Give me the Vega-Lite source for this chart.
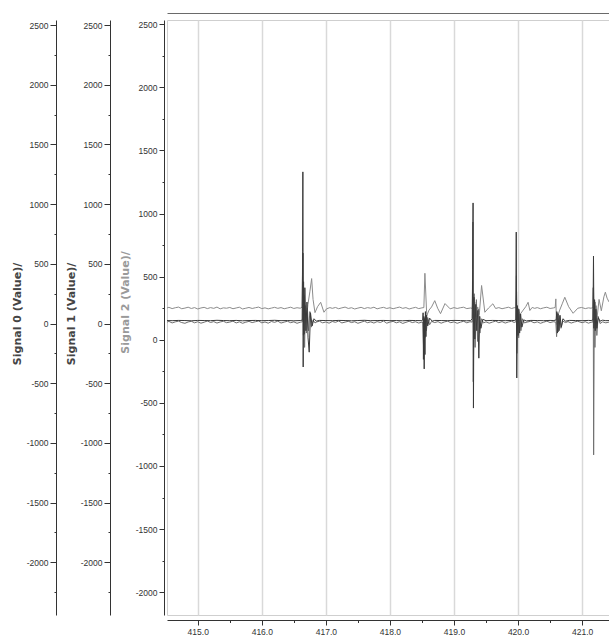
{
  "$schema": "https://vega.github.io/schema/vega-lite/v6.json",
  "width": 442,
  "height": 595,
  "autosize": "none",
  "padding": {"left": 167, "top": 20, "right": 0, "bottom": 26},
  "background": "white",
  "config": {
    "view": {"stroke": "#cfcfcf", "strokeWidth": 1},
    "axis": {
      "labelFont": "Liberation Sans",
      "labelFontSize": 8.5,
      "labelColor": "#333333",
      "domainColor": "#333333",
      "tickColor": "#333333",
      "titleFont": "DejaVu Sans",
      "titleFontSize": 11,
      "titleFontWeight": "bold",
      "titleColor": "#444444"
    }
  },
  "datasets": {
    "s0": [
      {"t":414.52,"v":25},{"t":414.6,"v":24},{"t":414.7,"v":26},{"t":414.8,"v":25},{"t":414.9,"v":23},{"t":415.0,"v":26},{"t":415.1,"v":25},{"t":415.2,"v":24},{"t":415.3,"v":27},{"t":415.4,"v":25},{"t":415.5,"v":24},{"t":415.6,"v":26},{"t":415.7,"v":23},{"t":415.8,"v":25},{"t":415.9,"v":26},{"t":416.0,"v":24},{"t":416.1,"v":25},{"t":416.2,"v":27},{"t":416.3,"v":24},{"t":416.4,"v":25},{"t":416.5,"v":23},{"t":416.6,"v":25},
      {"t":416.63,"v":28},{"t":416.637,"v":600},{"t":416.641,"v":1270},{"t":416.646,"v":-364},{"t":416.652,"v":350},{"t":416.66,"v":-90},{"t":416.672,"v":300},{"t":416.688,"v":-60},{"t":416.705,"v":180},{"t":416.722,"v":-120},{"t":416.74,"v":-240},{"t":416.76,"v":90},{"t":416.785,"v":-20},{"t":416.815,"v":40},{"t":416.85,"v":20},{"t":416.9,"v":26},
      {"t":417.0,"v":25},{"t":417.1,"v":24},{"t":417.2,"v":26},{"t":417.3,"v":25},{"t":417.4,"v":23},{"t":417.5,"v":25},{"t":417.6,"v":27},{"t":417.7,"v":24},{"t":417.8,"v":25},{"t":417.9,"v":26},{"t":418.0,"v":24},{"t":418.1,"v":25},{"t":418.2,"v":23},{"t":418.3,"v":26},{"t":418.4,"v":25},{"t":418.5,"v":24},
      {"t":418.512,"v":30},{"t":418.518,"v":90},{"t":418.523,"v":-300},{"t":418.529,"v":60},{"t":418.535,"v":-380},{"t":418.541,"v":40},{"t":418.547,"v":-260},{"t":418.554,"v":100},{"t":418.562,"v":-110},{"t":418.572,"v":70},{"t":418.59,"v":-20},{"t":418.62,"v":45},{"t":418.66,"v":20},
      {"t":418.7,"v":26},{"t":418.8,"v":25},{"t":418.9,"v":24},{"t":419.0,"v":26},{"t":419.1,"v":25},{"t":419.2,"v":23},{"t":419.26,"v":25},
      {"t":419.285,"v":40},{"t":419.292,"v":450},{"t":419.298,"v":1010},{"t":419.304,"v":-708},{"t":419.312,"v":220},{"t":419.325,"v":-130},{"t":419.34,"v":160},{"t":419.355,"v":-60},{"t":419.372,"v":110},{"t":419.388,"v":-290},{"t":419.402,"v":60},{"t":419.42,"v":-40},{"t":419.45,"v":35},
      {"t":419.5,"v":24},{"t":419.6,"v":26},{"t":419.7,"v":25},{"t":419.8,"v":24},{"t":419.9,"v":26},{"t":419.94,"v":25},
      {"t":419.965,"v":30},{"t":419.972,"v":766},{"t":419.98,"v":-456},{"t":419.99,"v":150},{"t":420.0,"v":-100},{"t":420.012,"v":120},{"t":420.025,"v":-80},{"t":420.04,"v":80},{"t":420.06,"v":-30},{"t":420.09,"v":30},{"t":420.13,"v":22},
      {"t":420.2,"v":26},{"t":420.3,"v":25},{"t":420.4,"v":24},{"t":420.5,"v":26},{"t":420.56,"v":25},
      {"t":420.595,"v":30},{"t":420.605,"v":100},{"t":420.615,"v":-80},{"t":420.625,"v":80},{"t":420.64,"v":-60},{"t":420.655,"v":70},{"t":420.675,"v":-30},{"t":420.7,"v":40},{"t":420.74,"v":20},
      {"t":420.8,"v":26},{"t":420.9,"v":25},{"t":421.0,"v":24},{"t":421.1,"v":26},{"t":421.14,"v":25},
      {"t":421.17,"v":30},{"t":421.178,"v":565},{"t":421.185,"v":-40},{"t":421.195,"v":200},{"t":421.205,"v":-60},{"t":421.215,"v":120},{"t":421.23,"v":-40},{"t":421.25,"v":50},{"t":421.28,"v":20},{"t":421.32,"v":28},{"t":421.37,"v":24},{"t":421.42,"v":25}
    ],
    "s1": [
      {"t":414.52,"v":12},{"t":414.55,"v":18},{"t":414.6,"v":5},{"t":414.65,"v":14},{"t":414.7,"v":20},{"t":414.75,"v":8},{"t":414.8,"v":2},{"t":414.85,"v":13},{"t":414.9,"v":19},{"t":414.95,"v":6},{"t":415.0,"v":15},{"t":415.05,"v":3},{"t":415.1,"v":11},{"t":415.15,"v":21},{"t":415.2,"v":9},{"t":415.25,"v":16},{"t":415.3,"v":4},{"t":415.35,"v":13},{"t":415.4,"v":19},{"t":415.45,"v":7},{"t":415.5,"v":12},{"t":415.55,"v":20},{"t":415.6,"v":5},{"t":415.65,"v":14},{"t":415.7,"v":2},{"t":415.75,"v":11},{"t":415.8,"v":18},{"t":415.85,"v":8},{"t":415.9,"v":15},{"t":415.95,"v":21},{"t":416.0,"v":6},{"t":416.05,"v":13},{"t":416.1,"v":3},{"t":416.15,"v":17},{"t":416.2,"v":10},{"t":416.25,"v":20},{"t":416.3,"v":4},{"t":416.35,"v":12},{"t":416.4,"v":19},{"t":416.45,"v":7},{"t":416.5,"v":14},{"t":416.55,"v":2},{"t":416.6,"v":11},
      {"t":416.635,"v":15},{"t":416.64,"v":200},{"t":416.645,"v":590},{"t":416.65,"v":-96},{"t":416.658,"v":240},{"t":416.668,"v":-200},{"t":416.68,"v":150},{"t":416.695,"v":-80},{"t":416.712,"v":130},{"t":416.73,"v":-60},{"t":416.75,"v":100},{"t":416.775,"v":-30},{"t":416.8,"v":30},{"t":416.83,"v":5},{"t":416.86,"v":14},
      {"t":416.9,"v":19},{"t":416.95,"v":6},{"t":417.0,"v":13},{"t":417.05,"v":3},{"t":417.1,"v":17},{"t":417.15,"v":10},{"t":417.2,"v":21},{"t":417.25,"v":5},{"t":417.3,"v":12},{"t":417.35,"v":19},{"t":417.4,"v":8},{"t":417.45,"v":15},{"t":417.5,"v":2},{"t":417.55,"v":11},{"t":417.6,"v":20},{"t":417.65,"v":7},{"t":417.7,"v":14},{"t":417.75,"v":4},{"t":417.8,"v":16},{"t":417.85,"v":9},{"t":417.9,"v":21},{"t":417.95,"v":3},{"t":418.0,"v":12},{"t":418.05,"v":18},{"t":418.1,"v":6},{"t":418.15,"v":14},{"t":418.2,"v":1},{"t":418.25,"v":10},{"t":418.3,"v":19},{"t":418.35,"v":8},{"t":418.4,"v":15},{"t":418.45,"v":4},{"t":418.5,"v":12},
      {"t":418.515,"v":5},{"t":418.525,"v":-200},{"t":418.535,"v":50},{"t":418.545,"v":-120},{"t":418.556,"v":80},{"t":418.57,"v":-60},{"t":418.59,"v":50},{"t":418.62,"v":-10},{"t":418.65,"v":18},
      {"t":418.7,"v":8},{"t":418.75,"v":16},{"t":418.8,"v":3},{"t":418.85,"v":13},{"t":418.9,"v":20},{"t":418.95,"v":7},{"t":419.0,"v":14},{"t":419.05,"v":2},{"t":419.1,"v":11},{"t":419.15,"v":19},{"t":419.2,"v":6},{"t":419.25,"v":15},
      {"t":419.285,"v":12},{"t":419.295,"v":850},{"t":419.301,"v":-488},{"t":419.315,"v":250},{"t":419.33,"v":-200},{"t":419.35,"v":200},{"t":419.368,"v":-150},{"t":419.385,"v":120},{"t":419.405,"v":-80},{"t":419.43,"v":40},{"t":419.46,"v":5},
      {"t":419.5,"v":14},{"t":419.55,"v":3},{"t":419.6,"v":12},{"t":419.65,"v":20},{"t":419.7,"v":7},{"t":419.75,"v":16},{"t":419.8,"v":4},{"t":419.85,"v":13},{"t":419.9,"v":19},{"t":419.94,"v":9},
      {"t":419.968,"v":15},{"t":419.975,"v":400},{"t":419.982,"v":-250},{"t":419.995,"v":90},{"t":420.01,"v":-120},{"t":420.025,"v":80},{"t":420.045,"v":-60},{"t":420.07,"v":40},{"t":420.1,"v":5},
      {"t":420.14,"v":12},{"t":420.2,"v":19},{"t":420.25,"v":6},{"t":420.3,"v":14},{"t":420.35,"v":2},{"t":420.4,"v":11},{"t":420.45,"v":20},{"t":420.5,"v":8},{"t":420.55,"v":15},
      {"t":420.59,"v":12},{"t":420.602,"v":-110},{"t":420.615,"v":90},{"t":420.63,"v":-70},{"t":420.65,"v":60},{"t":420.67,"v":-40},{"t":420.7,"v":20},{"t":420.74,"v":8},
      {"t":420.78,"v":16},{"t":420.83,"v":4},{"t":420.88,"v":13},{"t":420.93,"v":19},{"t":421.0,"v":7},{"t":421.05,"v":15},{"t":421.1,"v":3},{"t":421.14,"v":11},
      {"t":421.168,"v":12},{"t":421.174,"v":300},{"t":421.18,"v":-1100},{"t":421.19,"v":100},{"t":421.2,"v":-200},{"t":421.215,"v":150},{"t":421.23,"v":-100},{"t":421.25,"v":60},{"t":421.28,"v":0},{"t":421.32,"v":14},{"t":421.37,"v":6},{"t":421.42,"v":12}
    ],
    "s2": [
      {"t":414.52,"v":252},{"t":414.55,"v":257},{"t":414.6,"v":247},{"t":414.65,"v":254},{"t":414.7,"v":259},{"t":414.75,"v":246},{"t":414.8,"v":251},{"t":414.85,"v":258},{"t":414.9,"v":248},{"t":414.95,"v":255},{"t":415.0,"v":244},{"t":415.05,"v":252},{"t":415.1,"v":257},{"t":415.15,"v":247},{"t":415.2,"v":255},{"t":415.25,"v":249},{"t":415.3,"v":259},{"t":415.35,"v":245},{"t":415.4,"v":253},{"t":415.45,"v":250},{"t":415.5,"v":256},{"t":415.55,"v":246},{"t":415.6,"v":252},{"t":415.65,"v":258},{"t":415.7,"v":244},{"t":415.75,"v":250},{"t":415.8,"v":256},{"t":415.85,"v":248},{"t":415.9,"v":254},{"t":415.95,"v":259},{"t":416.0,"v":247},{"t":416.05,"v":253},{"t":416.1,"v":245},{"t":416.15,"v":251},{"t":416.2,"v":257},{"t":416.25,"v":249},{"t":416.3,"v":255},{"t":416.35,"v":246},{"t":416.4,"v":252},{"t":416.45,"v":258},{"t":416.5,"v":248},{"t":416.55,"v":254},{"t":416.6,"v":250},
      {"t":416.628,"v":258},{"t":416.64,"v":683},{"t":416.65,"v":34},{"t":416.665,"v":340},{"t":416.69,"v":130},{"t":416.72,"v":280},{"t":416.75,"v":380},{"t":416.778,"v":485},{"t":416.8,"v":320},{"t":416.83,"v":215},{"t":416.87,"v":262},{"t":416.919,"v":297},{"t":416.97,"v":218},{"t":417.01,"v":245},{"t":417.063,"v":255},
      {"t":417.1,"v":249},{"t":417.15,"v":256},{"t":417.2,"v":246},{"t":417.25,"v":253},{"t":417.3,"v":259},{"t":417.35,"v":248},{"t":417.4,"v":254},{"t":417.45,"v":244},{"t":417.5,"v":251},{"t":417.55,"v":257},{"t":417.6,"v":247},{"t":417.65,"v":255},{"t":417.7,"v":250},{"t":417.75,"v":258},{"t":417.8,"v":245},{"t":417.85,"v":252},{"t":417.9,"v":257},{"t":417.95,"v":248},{"t":418.0,"v":254},{"t":418.05,"v":246},{"t":418.1,"v":253},{"t":418.15,"v":259},{"t":418.2,"v":249},{"t":418.25,"v":255},{"t":418.3,"v":244},{"t":418.35,"v":251},{"t":418.4,"v":257},{"t":418.45,"v":247},{"t":418.5,"v":253},
      {"t":418.53,"v":255},{"t":418.546,"v":527},{"t":418.575,"v":190},{"t":418.61,"v":235},{"t":418.65,"v":260},{"t":418.7,"v":310},{"t":418.745,"v":250},{"t":418.79,"v":207},{"t":418.86,"v":287},{"t":418.94,"v":245},
      {"t":419.0,"v":255},{"t":419.05,"v":248},{"t":419.1,"v":254},{"t":419.15,"v":258},{"t":419.2,"v":247},{"t":419.26,"v":252},
      {"t":419.285,"v":248},{"t":419.298,"v":320},{"t":419.308,"v":120},{"t":419.325,"v":300},{"t":419.345,"v":180},{"t":419.37,"v":260},{"t":419.395,"v":200},{"t":419.431,"v":430},{"t":419.482,"v":218},{"t":419.54,"v":252},{"t":419.607,"v":285},{"t":419.65,"v":248},
      {"t":419.7,"v":255},{"t":419.75,"v":246},{"t":419.8,"v":252},{"t":419.85,"v":258},{"t":419.9,"v":248},{"t":419.94,"v":254},
      {"t":419.97,"v":255},{"t":419.977,"v":380},{"t":419.986,"v":150},{"t":420.0,"v":250},{"t":420.03,"v":200},{"t":420.08,"v":235},{"t":420.12,"v":262},{"t":420.157,"v":297},{"t":420.185,"v":232},{"t":420.22,"v":256},
      {"t":420.26,"v":249},{"t":420.3,"v":255},{"t":420.35,"v":246},{"t":420.4,"v":253},{"t":420.45,"v":258},{"t":420.5,"v":248},{"t":420.55,"v":252},
      {"t":420.58,"v":256},{"t":420.59,"v":324},{"t":420.601,"v":120},{"t":420.62,"v":190},{"t":420.65,"v":235},{"t":420.69,"v":285},{"t":420.73,"v":337},{"t":420.79,"v":262},{"t":420.86,"v":210},{"t":420.933,"v":250},
      {"t":420.99,"v":256},{"t":421.05,"v":247},{"t":421.1,"v":253},{"t":421.14,"v":250},
      {"t":421.17,"v":256},{"t":421.178,"v":420},{"t":421.188,"v":100},{"t":421.205,"v":300},{"t":421.235,"v":180},{"t":421.265,"v":320},{"t":421.3,"v":230},{"t":421.34,"v":340},{"t":421.363,"v":377},{"t":421.39,"v":330},{"t":421.42,"v":300}
    ]
  },
  "layer": [
    {
      "data": {"name": "s2"},
      "mark": {"type": "line", "clip": true, "strokeWidth": 1, "color": "#8c8c8c"},
      "encoding": {
        "x": {
          "field": "t", "type": "quantitative",
          "scale": {"domain": [414.52, 421.42], "nice": false, "zero": false},
          "axis": {
            "orient": "bottom", "offset": 5, "title": null,
            "values": [415, 415.5, 416, 416.5, 417, 417.5, 418, 418.5, 419, 419.5, 420, 420.5, 421],
            "labelExpr": "datum.value % 1 === 0 ? format(datum.value, '.1f') : ''",
            "tickSize": {"condition": {"test": "datum.value % 1 === 0", "value": 5}, "value": 2.5},
            "labelPadding": 2,
            "grid": true,
            "gridColor": "#d9d9d9",
            "gridWidth": 1.5,
            "gridOpacity": {"condition": {"test": "datum.value % 1 === 0", "value": 1}, "value": 0}
          }
        },
        "y": {
          "field": "v", "type": "quantitative",
          "scale": {"domain": [-2181, 2534], "nice": false, "zero": false},
          "axis": {
            "orient": "left", "offset": 3,
            "title": "Signal 2 (Value)/",
            "titleColor": "#9a9a9a",
            "titleX": -39, "titleY": 282, "titleBaseline": "middle", "titleAlign": "center",
            "values": [-2000, -1750, -1500, -1250, -1000, -750, -500, -250, 0, 250, 500, 750, 1000, 1250, 1500, 1750, 2000, 2250, 2500],
            "labelExpr": "datum.value % 500 === 0 ? '' + datum.value : ''",
            "tickSize": {"condition": {"test": "datum.value % 500 === 0", "value": 5}, "value": 2},
            "labelPadding": 2,
            "grid": false
          }
        }
      }
    },
    {
      "data": {"name": "s1"},
      "mark": {"type": "line", "clip": true, "strokeWidth": 1, "color": "#707070"},
      "encoding": {
        "x": {
          "field": "t", "type": "quantitative",
          "scale": {"domain": [414.52, 421.42], "nice": false, "zero": false},
          "axis": {"orient": "top", "offset": 7, "title": null, "labels": false, "ticks": false, "grid": false, "domainColor": "#6a6a6a", "values": []}
        },
        "y": {
          "field": "v", "type": "quantitative",
          "scale": {"domain": [-2441, 2542], "nice": false, "zero": false},
          "axis": {
            "orient": "left", "offset": 57,
            "title": "Signal 1 (Value)/",
            "titleX": -39, "titleY": 293.5, "titleBaseline": "middle", "titleAlign": "center",
            "values": [-2250, -2000, -1750, -1500, -1250, -1000, -750, -500, -250, 0, 250, 500, 750, 1000, 1250, 1500, 1750, 2000, 2250, 2500],
            "labelExpr": "datum.value % 500 === 0 ? '' + datum.value : ''",
            "tickSize": {"condition": {"test": "datum.value % 500 === 0", "value": 6}, "value": 2},
            "labelPadding": 2,
            "grid": false
          }
        }
      }
    },
    {
      "data": {"name": "s0"},
      "mark": {"type": "line", "clip": true, "strokeWidth": 1, "color": "#3a3a3a"},
      "encoding": {
        "x": {
          "field": "t", "type": "quantitative",
          "scale": {"domain": [414.52, 421.42], "nice": false, "zero": false},
          "axis": null
        },
        "y": {
          "field": "v", "type": "quantitative",
          "scale": {"domain": [-2441, 2542], "nice": false, "zero": false},
          "axis": {
            "orient": "left", "offset": 111,
            "title": "Signal 0 (Value)/",
            "titleX": -39, "titleY": 293.5, "titleBaseline": "middle", "titleAlign": "center",
            "values": [-2250, -2000, -1750, -1500, -1250, -1000, -750, -500, -250, 0, 250, 500, 750, 1000, 1250, 1500, 1750, 2000, 2250, 2500],
            "labelExpr": "datum.value % 500 === 0 ? '' + datum.value : ''",
            "tickSize": {"condition": {"test": "datum.value % 500 === 0", "value": 6}, "value": 2},
            "labelPadding": 2,
            "grid": false
          }
        }
      }
    }
  ],
  "resolve": {"scale": {"y": "independent"}, "axis": {"x": "independent", "y": "independent"}}
}
